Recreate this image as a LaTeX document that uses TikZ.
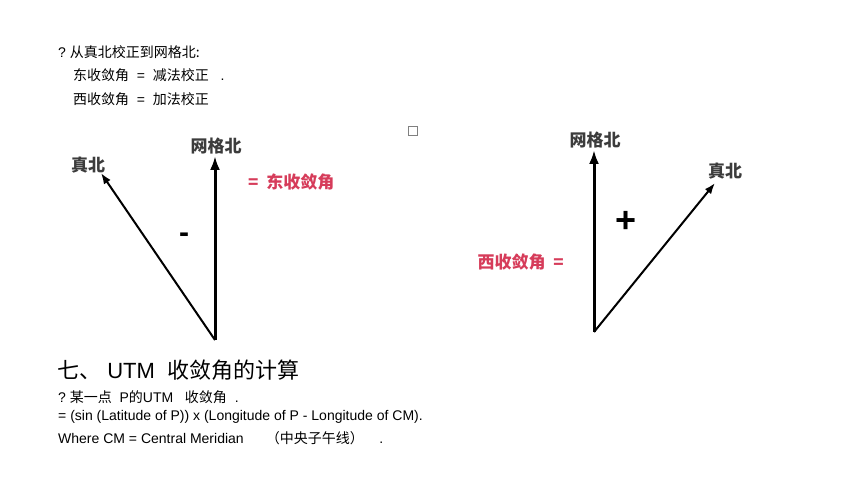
\documentclass[tikz,border=0pt]{standalone}
\usepackage{fontspec}
\usetikzlibrary{arrows.meta}
\setmainfont{Liberation Sans}
\newfontfamily\cjk{Noto Sans CJK SC}
\definecolor{myred}{RGB}{214,60,90}
\definecolor{lab}{RGB}{60,60,60}
\begin{document}
\begin{tikzpicture}[x=1pt,y=-1pt,
  txt/.style={anchor=west,inner sep=0pt,font=\fontsize{14}{16}\selectfont},
  lbl/.style={inner sep=0pt,text=lab,font=\cjk\bfseries\fontsize{17}{19}\selectfont},
  arr/.style={-{Latex[length=14pt,width=10pt]},line width=3pt},
  arrt/.style={-{Latex[length=11pt,width=8pt]},line width=2pt}]
\useasboundingbox (0,0) rectangle (845,497);
\node[txt] (t1) at (58,52) {?\ {\cjk 从真北校正到网格北:}};
\node[txt] (t2) at (73,75) {{\cjk 东收敛角}\ \ =\ \ {\cjk 减法校正}\ \ \ .};
\node[txt] (t3) at (73,99) {{\cjk 西收敛角}\ \ =\ \ {\cjk 加法校正}};
% left diagram
\coordinate (o1) at (215,340);
\coordinate (g1) at (215,156);
\coordinate (n1) at (101,173);
\draw[arr] (o1) -- (g1);
\draw[arrt] (o1) -- (n1);
\node[lbl] (lg1) at (216,146) {网格北};
\node[lbl] (ln1) at (88,165) {真北};
\node[inner sep=0pt,font=\bfseries\fontsize{30}{30}\selectfont] (m) at (184,238) {-};
\node[inner sep=0pt,anchor=west,text=myred,font=\cjk\bfseries\fontsize{17}{19}\selectfont] (e) at (248,182) {=\ \ 东收敛角};
\node[draw=gray,inner sep=0pt,minimum size=9pt] (sq) at (413,131) {};
% right diagram
\coordinate (o2) at (594,332);
\coordinate (g2) at (594,150);
\coordinate (n2) at (715,183);
\draw[arr] (o2) -- (g2);
\draw[arrt] (o2) -- (n2);
\node[lbl] (lg2) at (595,140) {网格北};
\node[lbl] (ln2) at (725,171) {真北};
\node[inner sep=0pt,font=\bfseries\fontsize{36}{36}\selectfont] (p) at (626,222) {+};
\node[inner sep=0pt,anchor=east,text=myred,font=\cjk\bfseries\fontsize{17}{19}\selectfont] (w) at (564,262) {西收敛角\ \ =};
% bottom text
\node[txt,font=\fontsize{22}{24}\selectfont] (h) at (57,370) {{\cjk 七、}\ UTM\ \ {\cjk 收敛角的计算}};
\node[txt] (b1) at (58,397) {?\ {\cjk 某一点}\ \ P{\cjk 的}UTM\ \ \ {\cjk 收敛角}\ \ .};
\node[txt] (b2) at (58,417) {= (sin (Latitude of P)) x (Longitude of P - Longitude of CM).};
\node[txt] (b3) at (58,438) {Where CM = Central Meridian\hspace{22pt}{\cjk （中央子午线）}\ \ \ \ .};
\end{tikzpicture}
\end{document}
